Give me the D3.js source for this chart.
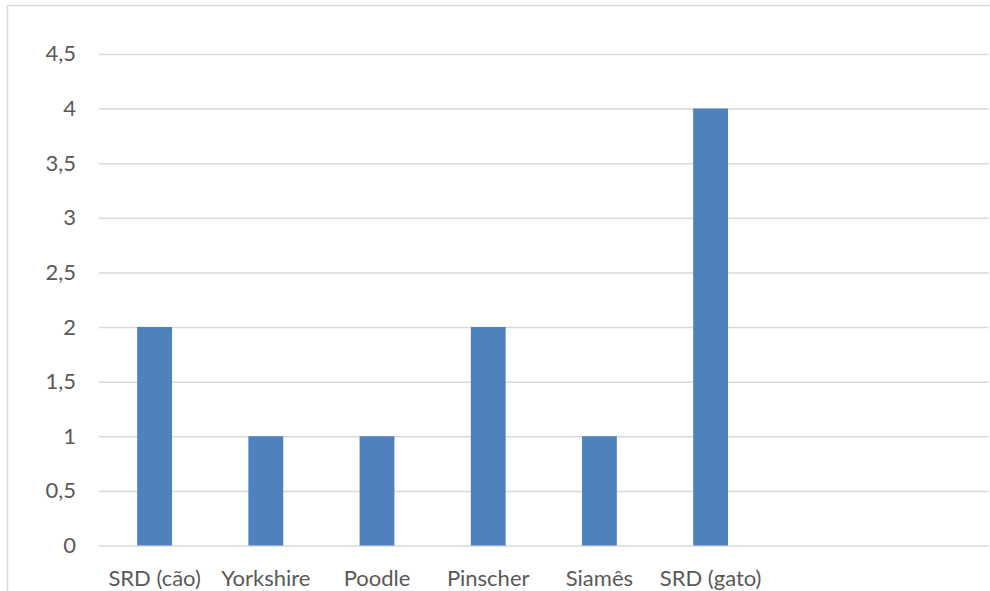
<!DOCTYPE html>
<html><head><meta charset="utf-8">
<script src="https://cdn.jsdelivr.net/npm/d3@7"></script>
<style>body{margin:0;background:#fff}svg{display:block}</style>
</head><body><svg id="c" width="990" height="591"></svg>
<script>
const categories = ["SRD (cão)", "Yorkshire", "Poodle", "Pinscher", "Siamês", "SRD (gato)", "", " "];
const values = [2, 1, 1, 2, 1, 4, null, null];
const yTicks = [0, 0.5, 1, 1.5, 2, 2.5, 3, 3.5, 4, 4.5];
const yTickLabels = ["0", "0,5", "1", "1,5", "2", "2,5", "3", "3,5", "4", "4,5"];

const svg = d3.select("#c");
const font = "Lato, 'Open Sans', sans-serif";
const x = d3.scaleBand().domain(categories).range([99, 988.6]).padding(0);
const y = d3.scaleLinear().domain([0, 4.5]).range([545.5, 53.9]);

// chart border (cropped)
svg.append("path").attr("d", "M7.5,600 V5.5 H1000")
  .attr("fill", "none").attr("stroke", "#d9d9d9").attr("stroke-width", 1.5);

// gridlines
const yAxis = d3.axisLeft(y).tickValues(yTicks)
  .tickFormat((d, i) => yTickLabels[i]).tickSize(-(988.6 - 99)).tickPadding(23);
const gy = svg.append("g").attr("transform", "translate(99,0)").call(yAxis);
gy.select(".domain").remove();
gy.selectAll(".tick line").attr("stroke", "#d9d9d9").attr("stroke-width", 1.5);
gy.selectAll(".tick text").attr("fill", "#595959").style("font-family", font).style("font-size", "22px");

// bars
const bw = x.bandwidth() / 3.19;
svg.append("g").selectAll("rect").data(categories.map((c, i) => ({c, v: values[i]})).filter(d => d.v != null))
  .join("rect")
  .attr("x", d => x(d.c) + x.bandwidth() / 2 - bw / 2)
  .attr("width", bw)
  .attr("y", d => y(d.v))
  .attr("height", d => y(0) - y(d.v))
  .attr("fill", "#4f81bd");

// x axis labels
const gx = svg.append("g").selectAll("text").data(categories).join("text")
  .attr("x", d => x(d) + x.bandwidth() / 2)
  .attr("y", 586)
  .attr("text-anchor", "middle")
  .attr("fill", "#595959").style("font-family", font).style("font-size", "22px")
  .text(d => d.trim());
</script></body></html>
